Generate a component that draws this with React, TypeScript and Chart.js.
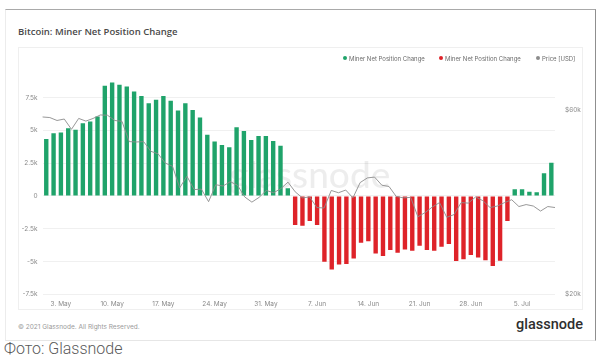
import { useEffect, useRef } from "react";
import { Chart, registerables } from "chart.js";

Chart.register(...registerables);

// Daily categories (bars)
const dates = [
  "1. May", "2. May", "3. May", "4. May", "5. May", "6. May", "7. May", "8. May", "9. May", "10. May",
  "11. May", "12. May", "13. May", "14. May", "15. May", "16. May", "17. May", "18. May", "19. May", "20. May",
  "21. May", "22. May", "23. May", "24. May", "25. May", "26. May", "27. May", "28. May", "29. May", "30. May",
  "31. May", "1. Jun", "2. Jun", "3. Jun", "4. Jun", "5. Jun", "6. Jun", "7. Jun", "8. Jun", "9. Jun",
  "10. Jun", "11. Jun", "12. Jun", "13. Jun", "14. Jun", "15. Jun", "16. Jun", "17. Jun", "18. Jun", "19. Jun",
  "20. Jun", "21. Jun", "22. Jun", "23. Jun", "24. Jun", "25. Jun", "26. Jun", "27. Jun", "28. Jun", "29. Jun",
  "30. Jun", "1. Jul", "2. Jul", "3. Jul", "4. Jul", "5. Jul", "6. Jul", "7. Jul", "8. Jul", "9. Jul",
];

// Price series covers one extra day on each side
const priceDates = ["30. Apr", ...dates, "10. Jul"];

const xTickLabels = ["3. May", "10. May", "17. May", "24. May", "31. May", "7. Jun", "14. Jun", "21. Jun", "28. Jun", "5. Jul"];

// Miner net position change (BTC)
const minerNetChange = [
  4350, 4780, 4830, 5170, 5040, 5550, 5670, 6060, 8400, 8650,
  8470, 8350, 7960, 7630, 7070, 7330, 7630, 7250, 6510, 7070,
  6560, 5980, 4660, 4150, 3890, 3720, 5240, 4960, 4270, 4580,
  4580, 4200, 3820, 590, -2210, -2260, -1910, -2210, -5010, -5600,
  -5220, -5190, -4760, -3560, -3440, -4380, -4580, -4120, -4330, -4070,
  -4170, -3790, -4120, -4170, -3870, -3660, -4960, -4830, -4500, -4680,
  -4890, -5340, -4940, -1910, 510, 510, 330, 280, 1730, 2540,
];

// Price [USD], daily from 30. Apr to 10. Jul
const priceUsd = [
  57700,
  57500, 56500, 57000, 53600, 57200, 56300, 57200, 58400, 58300, 56500,
  56200, 49800, 49700, 49800, 47000, 46300, 43800, 43000, 37800, 40500,
  37400, 37500, 34800, 38500, 38200, 39200, 38400, 35800, 34700, 35700,
  37200, 36700, 37600, 39100, 36900, 35600, 35800, 33600, 33500, 37200,
  36700, 37300, 35600, 39000, 40100, 40300, 38400, 38100, 35900, 35600,
  35700, 31800, 32600, 33700, 34600, 31700, 32200, 34600, 34500, 35800,
  35000, 33600, 33900, 34600, 35200, 33800, 34200, 33900, 32900, 33800,
  33600,
];

const yTicks = [-7500, -5000, -2500, 0, 2500, 5000, 7500];
const yTickLabels = ["-7.5k", "-5k", "-2.5k", "0", "2.5k", "5k", "7.5k"];
const priceTicks = [20000, 60000];
const priceTickLabels = ["$20k", "$60k"];

const GREEN = "#1fa36a";
const RED = "#de2329";
const GREY = "#8c8c8c";
const TICK_FONT = { family: "Inter, 'Open Sans', sans-serif", size: 6.5 };

const watermark = {
  id: "watermark",
  beforeDatasetsDraw(chart: any) {
    const { ctx, chartArea } = chart;
    ctx.save();
    ctx.font = "500 37px Lato, Roboto, sans-serif";
    ctx.fillStyle = "rgba(0,0,0,0.07)";
    ctx.textAlign = "center";
    ctx.textBaseline = "alphabetic";
    ctx.fillText("glassnode", (chartArea.left + chartArea.right) / 2 + 11, chartArea.top + 116);
    ctx.restore();
  },
};

function MinerChart() {
  const ref = useRef<HTMLCanvasElement | null>(null);
  useEffect(() => {
    if (!ref.current) return;
    const chart = new Chart(ref.current, {
      type: "bar",
      data: {
        labels: dates,
        datasets: [
          {
            type: "line",
            label: "Price [USD]",
            data: priceUsd,
            xAxisID: "x2",
            yAxisID: "y1",
            borderColor: GREY,
            borderWidth: 0.9,
            pointRadius: 0,
            tension: 0,
            order: 0,
            clip: 4,
          } as any,
          {
            label: "Miner Net Position Change",
            data: minerNetChange.map((v) => (v >= 0 ? v : null)),
            backgroundColor: GREEN,
            xAxisID: "x",
            yAxisID: "y",
            grouped: false,
            barPercentage: 0.6,
            categoryPercentage: 1,
            order: 1,
          } as any,
          {
            label: "Miner Net Position Change",
            data: minerNetChange.map((v) => (v < 0 ? v : null)),
            backgroundColor: RED,
            xAxisID: "x",
            yAxisID: "y",
            grouped: false,
            barPercentage: 0.6,
            categoryPercentage: 1,
            order: 1,
          } as any,
        ],
      },
      options: {
        animation: false,
        responsive: false,
        layout: { padding: { top: 25, left: 0, right: 0, bottom: 0 } },
        plugins: { legend: { display: false }, tooltip: { enabled: false } },
        scales: {
          x: {
            type: "category",
            labels: dates,
            offset: true,
            grid: { display: false, drawTicks: false },
            border: { display: false },
            ticks: {
              autoSkip: false,
              maxRotation: 0,
              padding: 6,
              color: "#8a8a8a",
              font: TICK_FONT,
              callback: function (_v: any, i: number) {
                const l = dates[i];
                return xTickLabels.includes(l) ? l : "";
              },
            },
            afterFit: (s: any) => {
              s.height = 15.6;
            },
          },
          x2: {
            type: "category",
            labels: priceDates,
            offset: false,
            display: false,
          },
          y: {
            type: "linear",
            position: "left",
            min: -7500,
            max: 9450,
            grid: { color: "#f0f0f0", drawTicks: false, lineWidth: 1 },
            border: { display: false },
            afterBuildTicks: (s: any) => {
              s.ticks = yTicks.map((v) => ({ value: v }));
            },
            ticks: {
              padding: 5,
              color: "#8a8a8a",
              font: TICK_FONT,
              callback: (v: any) => {
                const idx = yTicks.indexOf(Number(v));
                return idx >= 0 ? yTickLabels[idx] : "";
              },
            },
            afterFit: (s: any) => {
              s.width = 24.6;
            },
          },
          y1: {
            type: "logarithmic",
            position: "right",
            min: 20000,
            max: 75480,
            grid: { display: false, drawTicks: false },
            border: { display: false },
            afterBuildTicks: (s: any) => {
              s.ticks = priceTicks.map((v) => ({ value: v }));
            },
            ticks: {
              padding: 10,
              color: "#8a8a8a",
              font: TICK_FONT,
              callback: (v: any) => {
                const idx = priceTicks.indexOf(Number(v));
                return idx >= 0 ? priceTickLabels[idx] : "";
              },
            },
            afterFit: (s: any) => {
              s.width = 28;
            },
          },
        },
      } as any,
      plugins: [watermark],
    });
    return () => chart.destroy();
  }, []);
  return <canvas ref={ref} width={565} height={263} style={{ width: 565, height: 263, display: "block" }} />;
}

const legendItems = [
  { color: GREEN, text: "Miner Net Position Change", left: 343 },
  { color: RED, text: "Miner Net Position Change", left: 439 },
  { color: GREY, text: "Price [USD]", left: 536 },
];

export default function App() {
  return (
    <div
      style={{
        position: "fixed",
        left: 0,
        top: 0,
        width: 604,
        height: 357,
        background: "#fff",
        overflow: "hidden",
        fontFamily: "Inter, 'Open Sans', sans-serif",
      }}
    >
      <div
        style={{
          position: "absolute",
          left: 5,
          top: 9,
          width: 591,
          height: 332,
          boxSizing: "border-box",
          borderTop: "1px solid #a9a9a9",
          borderLeft: "1px solid #ececec",
          borderRight: "1px solid #8f8f8f",
          borderBottom: "1px solid #e6e6e6",
        }}
      />
      <div
        style={{
          position: "absolute",
          left: 18,
          top: 25,
          fontSize: 9.5,
          fontWeight: 600,
          color: "#4a4a4a",
          lineHeight: "14px",
          whiteSpace: "nowrap",
          fontFamily: "'Open Sans', sans-serif",
        }}
      >
        Bitcoin: Miner Net Position Change
      </div>
      <div
        style={{
          position: "absolute",
          left: 18,
          top: 47,
          width: 565,
          height: 263,
          boxSizing: "border-box",
          border: "1px solid #efefef",
        }}
      />
      <div style={{ position: "absolute", left: 18, top: 47, width: 565, height: 263 }}>
        <MinerChart />
      </div>
      {legendItems.map((it, i) => (
        <div
          key={i}
          style={{
            position: "absolute",
            left: it.left,
            top: 53,
            height: 10,
            display: "flex",
            alignItems: "center",
            whiteSpace: "nowrap",
            fontSize: 6,
            color: "#6b6b6b",
          }}
        >
          <span
            style={{
              display: "inline-block",
              width: 4,
              height: 4,
              borderRadius: 2,
              background: it.color,
              marginRight: 2,
            }}
          />
          {it.text}
        </div>
      ))}
      <div
        style={{
          position: "absolute",
          left: 18,
          top: 322,
          fontSize: 6.5,
          color: "#9a9a9a",
          lineHeight: "10px",
          whiteSpace: "nowrap",
        }}
      >
        © 2021 Glassnode. All Rights Reserved.
      </div>
      <div
        style={{
          position: "absolute",
          right: 604 - 583,
          top: 316,
          fontSize: 14.5,
          fontWeight: 500,
          color: "#2e2e2e",
          lineHeight: "18px",
          fontFamily: "Roboto, sans-serif",
          whiteSpace: "nowrap",
        }}
      >
        glassnode
      </div>
      <div
        style={{
          position: "absolute",
          left: 4,
          top: 340,
          fontSize: 16,
          fontWeight: 300,
          color: "#5a5a5a",
          lineHeight: "18px",
          fontFamily: "Roboto, sans-serif",
          whiteSpace: "nowrap",
        }}
      >
        Фото: Glassnode
      </div>
    </div>
  );
}
